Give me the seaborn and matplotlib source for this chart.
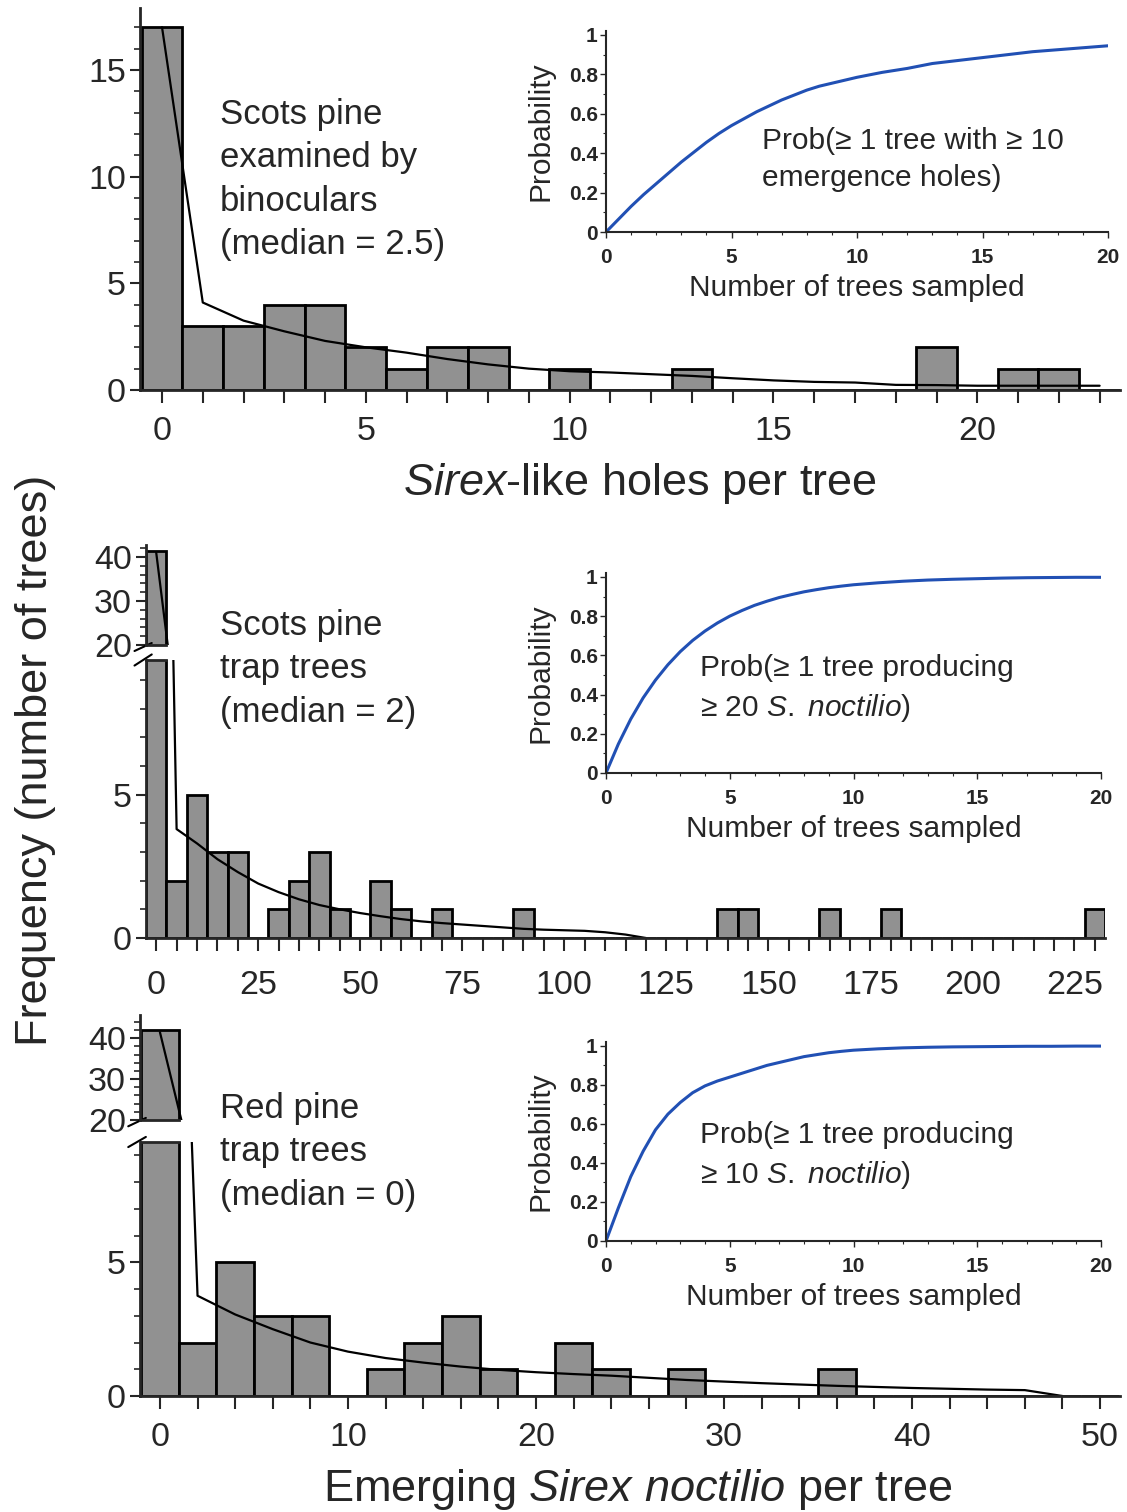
import numpy as np
import pandas as pd
import seaborn as sns
import matplotlib.pyplot as plt
from matplotlib.ticker import MultipleLocator, FixedLocator, FuncFormatter

# --- panel 1: Sirex-like holes, Scots pine examined by binoculars ---
holes_bins = [0, 1, 2, 3, 4, 5, 6, 7, 8, 10, 13, 19, 21, 22]
holes_counts = [17, 3, 3, 4, 4, 2, 1, 2, 2, 1, 1, 2, 1, 1]
holes_fit_x = list(range(0, 24))
holes_fit_y = [17, 4.1, 3.25, 2.75, 2.3, 2.0, 1.75, 1.45, 1.2, 1.0, 0.88, 0.82,
               0.74, 0.66, 0.55, 0.45, 0.38, 0.35, 0.24, 0.23, 0.2, 0.2, 0.2, 0.2]

# --- panel 2: Scots pine trap trees ---
scots_bins = [0, 5, 10, 15, 20, 30, 35, 40, 45, 55, 60, 70, 90, 140, 145, 165, 180, 230]
scots_counts = [41.4, 2, 5, 3, 3, 1, 2, 3, 1, 2, 1, 1, 1, 1, 1, 1, 1, 1]
scots_fit_x = list(range(0, 125, 5))
scots_fit_y = [41, 3.8, 3.3, 2.75, 2.3, 1.9, 1.6, 1.35, 1.15, 1.0, 0.87, 0.76, 0.66,
               0.58, 0.52, 0.47, 0.42, 0.37, 0.32, 0.29, 0.27, 0.25, 0.2, 0.12, 0.0]

# --- panel 3: red pine trap trees ---
red_bins = [0, 2, 4, 6, 8, 12, 14, 16, 18, 22, 24, 28, 36]
red_counts = [42, 2, 5, 3, 3, 1, 2, 3, 1, 2, 1, 1, 1]
red_fit_x = list(range(0, 50, 2))
red_fit_y = [41.5, 3.75, 3.05, 2.5, 2.0, 1.66, 1.42, 1.25, 1.1, 0.98, 0.89, 0.82, 0.76,
             0.68, 0.6, 0.54, 0.48, 0.43, 0.38, 0.34, 0.3, 0.27, 0.24, 0.22, 0.0]

# --- inset curves: probability vs number of trees sampled (read every half tree up to 10) ---
n_trees = [0, 0.5, 1, 1.5, 2, 2.5, 3, 3.5, 4, 4.5, 5, 5.5, 6, 6.5, 7, 7.5, 8, 8.5, 9, 9.5,
           10, 11, 12, 13, 14, 15, 16, 17, 18, 19, 20]
prob_holes = [0, 0.065, 0.13, 0.19, 0.245, 0.30, 0.355, 0.405, 0.455, 0.50, 0.54, 0.575,
              0.61, 0.64, 0.67, 0.695, 0.72, 0.74, 0.755, 0.77, 0.785, 0.81, 0.83, 0.855,
              0.87, 0.885, 0.90, 0.915, 0.925, 0.935, 0.945]
prob_scots = [0, 0.148, 0.275, 0.383, 0.474, 0.552, 0.619, 0.676, 0.724, 0.765, 0.80,
              0.829, 0.855, 0.876, 0.895, 0.91, 0.924, 0.935, 0.945, 0.953, 0.96, 0.97,
              0.978, 0.984, 0.988, 0.991, 0.994, 0.996, 0.997, 0.998, 0.998]
prob_red = [0, 0.17, 0.33, 0.46, 0.57, 0.65, 0.71, 0.76, 0.795, 0.82, 0.84, 0.86, 0.88,
            0.90, 0.915, 0.93, 0.945, 0.955, 0.965, 0.972, 0.978, 0.985, 0.99, 0.993,
            0.995, 0.996, 0.997, 0.998, 0.998, 0.999, 0.999]

sns.set_theme(style="ticks")
plt.rcParams['font.family'] = ['Liberation Sans', 'DejaVu Sans']
plt.rcParams['mathtext.fontset'] = 'custom'
plt.rcParams['mathtext.rm'] = 'Liberation Sans'
plt.rcParams['mathtext.it'] = 'Liberation Sans:italic'

W, H = 1127, 1512
fig = plt.figure(figsize=(W / 100, H / 100), dpi=100)


def box(left, right, top, bottom):
    return [left / W, 1 - bottom / H, (right - left) / W, (bottom - top) / H]


BAR = '#919191'
TICK = 24.5
NOTE = 25
AXLAB = 32.5


def style_main(ax, lw=2, xpad=10):
    sns.despine(ax=ax)
    for s in ['left', 'bottom']:
        ax.spines[s].set_linewidth(lw)
    ax.tick_params(axis='y', which='major', length=7, width=1.5, labelsize=TICK, pad=3)
    ax.tick_params(axis='y', which='minor', length=4.5, width=1.2)
    ax.tick_params(axis='x', which='both', length=9, width=1.5, labelsize=TICK, pad=xpad)
    ax.set_xlabel('')
    ax.set_ylabel('')


def hist(ax, bins, counts, width, rng):
    sns.histplot(x=bins, weights=counts, binwidth=width, binrange=rng, ax=ax,
                 color=BAR, edgecolor='black', linewidth=2, alpha=1)


def fit(ax, xs, ys):
    sns.lineplot(x=xs, y=ys, ax=ax, color='black', linewidth=1.6)


def break_marks(ax_up, ax_lo):
    kw = dict(color='black', clip_on=False, linewidth=1.5)
    ax_up.plot([-0.012, 0.006], [-0.06, 0.02], transform=ax_up.transAxes, **kw)
    ax_lo.plot([-0.012, 0.006], [0.98, 1.02], transform=ax_lo.transAxes, **kw)


def inset(rect, y, text, tx, ty):
    ax = fig.add_axes(rect)
    sns.lineplot(x=n_trees, y=y, ax=ax, color='#2150b4', linewidth=2.2)
    sns.despine(ax=ax)
    ax.set_facecolor('none')
    for s in ['left', 'bottom']:
        ax.spines[s].set_linewidth(1.5)
    ax.set_xlim(0, 20)
    ax.set_ylim(0, 1.02)
    ax.xaxis.set_major_locator(MultipleLocator(5))
    ax.xaxis.set_minor_locator(MultipleLocator(1))
    ax.yaxis.set_major_locator(FixedLocator([0, 0.2, 0.4, 0.6, 0.8, 1]))
    ax.yaxis.set_minor_locator(MultipleLocator(0.1))
    fmt = FuncFormatter(lambda v, p: f"{v:g}")
    ax.xaxis.set_major_formatter(fmt)
    ax.yaxis.set_major_formatter(fmt)
    ax.tick_params(axis='y', which='major', length=4, width=1, labelsize=15, pad=2)
    ax.tick_params(axis='x', which='major', length=4, width=1, labelsize=15, pad=7.5)
    ax.tick_params(axis='both', which='minor', length=2.5, width=0.8)
    for lab in ax.get_xticklabels() + ax.get_yticklabels():
        lab.set_fontweight('bold')
    ax.set_xlabel('Number of trees sampled', fontsize=21.5, labelpad=5)
    ax.set_ylabel('Probability', fontsize=21.5, labelpad=10)
    fig.text(tx / W, 1 - ty / H, text, fontsize=21.5, va='top', ha='left', linespacing=1.42)
    return ax


# ---------------- panel 1 ----------------
ax1 = fig.add_axes(box(140, 1120, 8, 390))
hist(ax1, holes_bins, holes_counts, 1, (-0.5, 23.5))
fit(ax1, holes_fit_x, holes_fit_y)
ax1.set_xlim(-0.54, 23.5)
ax1.set_ylim(0, 17.9)
ax1.xaxis.set_major_locator(MultipleLocator(5))
ax1.xaxis.set_minor_locator(MultipleLocator(1))
ax1.yaxis.set_major_locator(MultipleLocator(5))
ax1.yaxis.set_minor_locator(MultipleLocator(1))
style_main(ax1, xpad=10)
fig.text(220 / W, 1 - 98 / H, "Scots pine\nexamined by\nbinoculars\n(median = 2.5)",
         fontsize=NOTE, va='top', ha='left', linespacing=1.4)
fig.text(640 / W, 1 - 483 / H, r"$\it{Sirex}$-like holes per tree", fontsize=AXLAB,
         ha='center', va='center')

# ---------------- panel 2 ----------------
ax2u = fig.add_axes(box(146, 1105, 545, 645))
ax2 = fig.add_axes(box(146, 1105, 660, 938))
for a in (ax2u, ax2):
    hist(a, scots_bins, scots_counts, 5, (-2.5, 232.5))
    fit(a, scots_fit_x, scots_fit_y)
    a.set_xlim(-2.5, 232.5)
ax2u.set_ylim(20, 42.7)
ax2.set_ylim(0, 9.7)
ax2.xaxis.set_major_locator(MultipleLocator(25))
ax2.xaxis.set_minor_locator(MultipleLocator(5))
ax2.yaxis.set_major_locator(FixedLocator([0, 5]))
ax2.yaxis.set_minor_locator(MultipleLocator(1))
ax2u.yaxis.set_major_locator(MultipleLocator(10))
ax2u.yaxis.set_minor_locator(MultipleLocator(2))
style_main(ax2, xpad=14)
style_main(ax2u)
ax2u.spines['bottom'].set_bounds(-2.5, 2.5)
ax2u.tick_params(axis='x', which='both', bottom=False, labelbottom=False)
ax2.spines['top'].set_visible(True)
ax2.spines['top'].set_linewidth(2)
ax2.spines['top'].set_bounds(-2.5, 2.5)
break_marks(ax2u, ax2)
fig.text(220 / W, 1 - 609 / H, "Scots pine\ntrap trees\n(median = 2)",
         fontsize=NOTE, va='top', ha='left', linespacing=1.4)

# ---------------- panel 3 ----------------
ax3u = fig.add_axes(box(140, 1120, 1015, 1120))
ax3 = fig.add_axes(box(140, 1120, 1142, 1396))
for a in (ax3u, ax3):
    hist(a, red_bins, red_counts, 2, (-1, 51))
    fit(a, red_fit_x, red_fit_y)
    a.set_xlim(-1.06, 51.06)
ax3u.set_ylim(20, 45.7)
ax3.set_ylim(0, 9.5)
ax3.xaxis.set_major_locator(MultipleLocator(10))
ax3.xaxis.set_minor_locator(MultipleLocator(2))
ax3.yaxis.set_major_locator(FixedLocator([0, 5]))
ax3.yaxis.set_minor_locator(MultipleLocator(1))
ax3u.yaxis.set_major_locator(MultipleLocator(10))
ax3u.yaxis.set_minor_locator(MultipleLocator(2))
style_main(ax3, xpad=10)
style_main(ax3u)
ax3u.spines['bottom'].set_bounds(-1, 1)
ax3u.tick_params(axis='x', which='both', bottom=False, labelbottom=False)
ax3.spines['top'].set_visible(True)
ax3.spines['top'].set_linewidth(2)
ax3.spines['top'].set_bounds(-1, 1)
break_marks(ax3u, ax3)
fig.text(220 / W, 1 - 1092 / H, "Red pine\ntrap trees\n(median = 0)",
         fontsize=NOTE, va='top', ha='left', linespacing=1.4)
fig.text(638 / W, 1 - 1490 / H, r"Emerging $\it{Sirex\ noctilio}$ per tree", fontsize=AXLAB,
         ha='center', va='center')

fig.text(36 / W, 1 - 760 / H, "Frequency (number of trees)", fontsize=AXLAB,
         rotation=90, ha='center', va='center')

# ---------------- insets ----------------
inset(box(606, 1108, 31, 232), prob_holes,
      "Prob(\u2265 1 tree with \u2265 10\nemergence holes)", 762, 127)
inset(box(606, 1101, 573, 773), prob_scots,
      "Prob(\u2265 1 tree producing\n\u2265 20 $\\it{S.\\ noctilio}$)", 700, 654)
inset(box(606, 1101, 1042, 1241), prob_red,
      "Prob(\u2265 1 tree producing\n\u2265 10 $\\it{S.\\ noctilio}$)", 700, 1121)

fig.savefig("out.png", dpi=100)
